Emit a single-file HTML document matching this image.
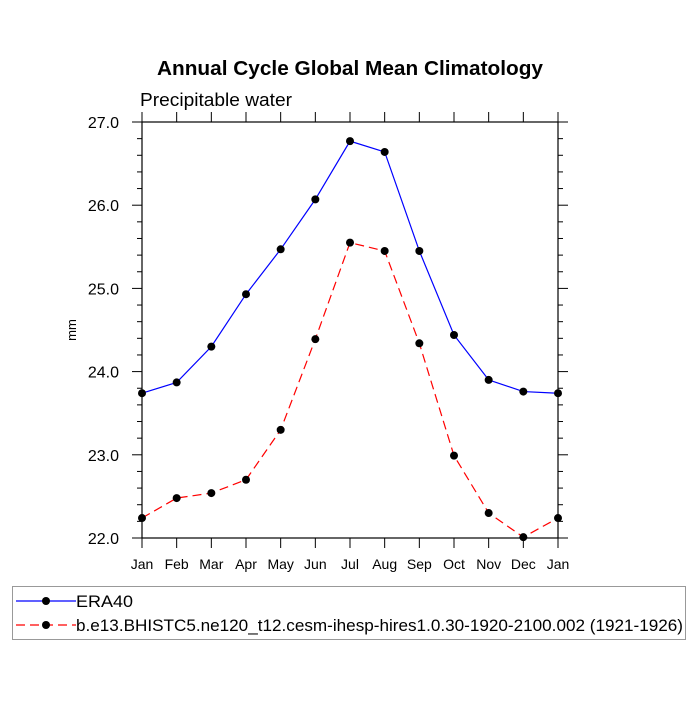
<!DOCTYPE html>
<html><head><meta charset="utf-8"><style>
body{margin:0;background:#fff;font-family:"Liberation Sans",sans-serif}
</style></head><body>
<svg id="chart" width="700" height="700" xmlns="http://www.w3.org/2000/svg" font-family="Liberation Sans, sans-serif">
<rect width="700" height="700" fill="#fff"/>
<text x="157" y="75" font-size="20" font-weight="bold" textLength="386" lengthAdjust="spacingAndGlyphs">Annual Cycle Global Mean Climatology</text>
<text x="140" y="106" font-size="18" textLength="152" lengthAdjust="spacingAndGlyphs">Precipitable water</text>
<text transform="translate(76,330) rotate(-90)" text-anchor="middle" font-size="13">mm</text>
<g id="axes"></g>
<g id="series"></g>
<rect x="12.5" y="586.5" width="673" height="53" fill="none" stroke="#999" stroke-width="1"/>
<g id="legend"></g>
</svg>
<script>
const months=["Jan","Feb","Mar","Apr","May","Jun","Jul","Aug","Sep","Oct","Nov","Dec","Jan"];
const era40=[23.74,23.87,24.30,24.93,25.47,26.07,26.77,26.64,25.45,24.44,23.90,23.76,23.74];
const model=[22.24,22.48,22.54,22.70,23.30,24.39,25.55,25.45,24.34,22.99,22.30,22.01,22.24];
const yTicks=[22,23,24,25,26,27];
const yTickLabels=["22.0","23.0","24.0","25.0","26.0","27.0"];
const seriesNames=["ERA40","b.e13.BHISTC5.ne120_t12.cesm-ihesp-hires1.0.30-1920-2100.002 (1921-1926)"];
const legendWidths=[57,607];
const L=142,R=558,T=122,B=538,ymin=22,ymax=27;
const xs=i=>L+(R-L)*i/(months.length-1);
const ys=v=>B-(B-T)*(v-ymin)/(ymax-ymin);
const NS="http://www.w3.org/2000/svg";
function mk(tag,attrs,parent,txt){const e=document.createElementNS(NS,tag);for(const k in attrs)e.setAttribute(k,attrs[k]);if(txt!=null)e.textContent=txt;parent.appendChild(e);return e;}
const ax=document.getElementById('axes');
const frame=mk('rect',{x:L,y:T,width:R-L,height:B-T,fill:'none',stroke:'#000','stroke-width':1.2},ax);


months.forEach((m,i)=>{const x=xs(i);
 mk('line',{x1:x,y1:B,x2:x,y2:B+10,stroke:'#000'},ax);
 mk('line',{x1:x,y1:T,x2:x,y2:T-10,stroke:'#000'},ax);
 const t=mk('text',{x:x,y:B+31,'text-anchor':'middle','font-size':14},ax,m);
 
 
});
for(let v=ymin;v<=ymax+1e-9;v+=0.2){const y=ys(v);const major=Math.abs(v-Math.round(v))<1e-6;const len=major?10:5;
 mk('line',{x1:L,y1:y,x2:L-len,y2:y,stroke:'#000'},ax);
 mk('line',{x1:R,y1:y,x2:R+len,y2:y,stroke:'#000'},ax);}
yTicks.forEach((v,i)=>{const t=mk('text',{x:L-23,y:ys(v)+6,'text-anchor':'end','font-size':16},ax,yTickLabels[i]);
 
 });
const sg=document.getElementById('series');
function drawSeries(vals,color,dash,name){
 const g=mk('g',{},sg);
 
 
 const p=mk('polyline',{points:vals.map((v,i)=>xs(i)+','+ys(v)).join(' '),fill:'none',stroke:color,'stroke-width':1.2,'stroke-dasharray':dash},g);
 
 
 vals.forEach((v,i)=>{const c=mk('circle',{cx:xs(i),cy:ys(v),r:4,fill:'#000'},g);
  
  });
}
drawSeries(era40,'#0000ff','none','era40-series');
drawSeries(model,'#ff0000','9,5','model-series');
const lg=document.getElementById('legend');
[[601,'#0000ff','none'],[625,'#ff0000','9,5']].forEach((d,i)=>{
 const g=mk('g',{},lg);
 
 
 mk('line',{x1:16,y1:d[0],x2:76,y2:d[0],stroke:d[1],'stroke-width':1.2,'stroke-dasharray':d[2]},g);
 mk('circle',{cx:46,cy:d[0],r:4,fill:'#000'},g);
 mk('text',{x:76,y:d[0]+6,'font-size':17,textLength:legendWidths[i],lengthAdjust:'spacingAndGlyphs'},g,seriesNames[i]);
});
</script>
</body></html>
